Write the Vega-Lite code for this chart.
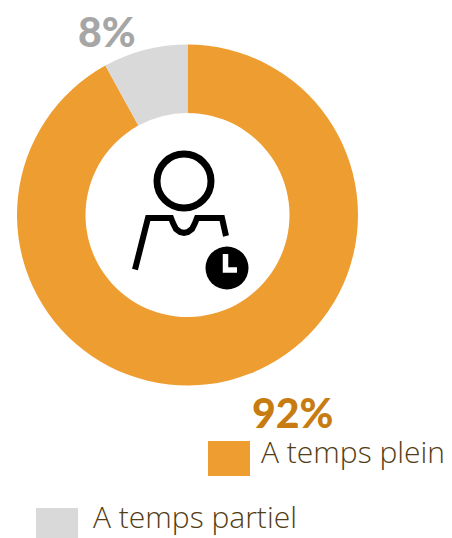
{
"$schema":"https://vega.github.io/schema/vega-lite/v6.json",
"width":452,"height":538,"padding":0,"autosize":{"type":"none"},
"background":"white",
"config":{"view":{"stroke":null}},
"encoding":{
"x":{"field":"x","type":"quantitative","scale":{"domain":[0,452],"range":[0,452],"nice":false,"zero":false},"axis":null},
"y":{"field":"y","type":"quantitative","scale":{"domain":[0,538],"range":[0,538],"nice":false,"zero":false},"axis":null}
},
"layer":[
{"data":{"values":[
{"label":"A temps plein","share":92,"rank":1,"x":187.5,"y":215},
{"label":"A temps partiel","share":8,"rank":2,"x":187.5,"y":215}]},
"mark":{"type":"arc","radius":170.5,"radius2":102},
"encoding":{
"theta":{"field":"share","type":"quantitative","stack":true},
"order":{"field":"rank"},
"color":{"field":"label","type":"nominal","legend":null,"scale":{"domain":["A temps plein","A temps partiel"],"range":["#EE9D30","#D9D9D9"]}}}},
{"data":{"values":[{"x":184,"y":181}]},
"mark":{"type":"point","filled":false,"size":2916,"stroke":"black","strokeWidth":7,"opacity":1}},
{"data":{"values":[
{"x":135,"y":269.5,"o":1},{"x":148,"y":218,"o":2},{"x":171,"y":218,"o":3},{"x":173,"y":223,"o":4},{"x":176,"y":229,"o":5},{"x":180,"y":232,"o":6},{"x":184,"y":233,"o":7},{"x":188,"y":232,"o":8},{"x":192,"y":229,"o":9},{"x":195,"y":223,"o":10},{"x":197,"y":218,"o":11},{"x":222,"y":218,"o":12},{"x":226,"y":236,"o":13}]},
"mark":{"type":"line","stroke":"black","strokeWidth":6,"strokeJoin":"miter","strokeCap":"butt"},
"encoding":{"order":{"field":"o"}}},
{"data":{"values":[{"x":227,"y":268}]},
"mark":{"type":"point","filled":true,"size":1849,"color":"black","opacity":1}},
{"data":{"values":[{"x":225.5,"y":254,"o":1},{"x":225.5,"y":270,"o":2},{"x":237,"y":270,"o":3}]},
"mark":{"type":"line","stroke":"white","strokeWidth":5.5,"strokeJoin":"miter","strokeCap":"butt"},
"encoding":{"order":{"field":"o"}}},
{"data":{"values":[
{"x":208,"x2":250,"y":441,"y2":476,"label":"A temps plein"},
{"x":36,"x2":78,"y":508,"y2":538,"label":"A temps partiel"}]},
"mark":{"type":"rect"},
"encoding":{"x2":{"field":"x2"},"y2":{"field":"y2"},
"color":{"field":"label","type":"nominal","legend":null,"scale":{"domain":["A temps plein","A temps partiel"],"range":["#EE9D30","#D9D9D9"]}}}},
{"data":{"values":[{"x":261,"y":463,"t":"A temps plein"},{"x":93,"y":528,"t":"A temps partiel"}]},
"mark":{"type":"text","align":"left","baseline":"alphabetic","font":"Open Sans","fontWeight":300,"fontSize":30,"color":"#533D14"},
"encoding":{"text":{"field":"t"}}},
{"data":{"values":[{"x":252,"y":428,"t":"92%"}]},
"mark":{"type":"text","align":"left","baseline":"alphabetic","font":"Lato","fontWeight":900,"fontSize":41,"color":"#C77C11"},
"encoding":{"text":{"field":"t"}}},
{"data":{"values":[{"x":78,"y":47,"t":"8%"}]},
"mark":{"type":"text","align":"left","baseline":"alphabetic","font":"Lato","fontWeight":900,"fontSize":41,"color":"#A6A6A6"},
"encoding":{"text":{"field":"t"}}}
]
}
